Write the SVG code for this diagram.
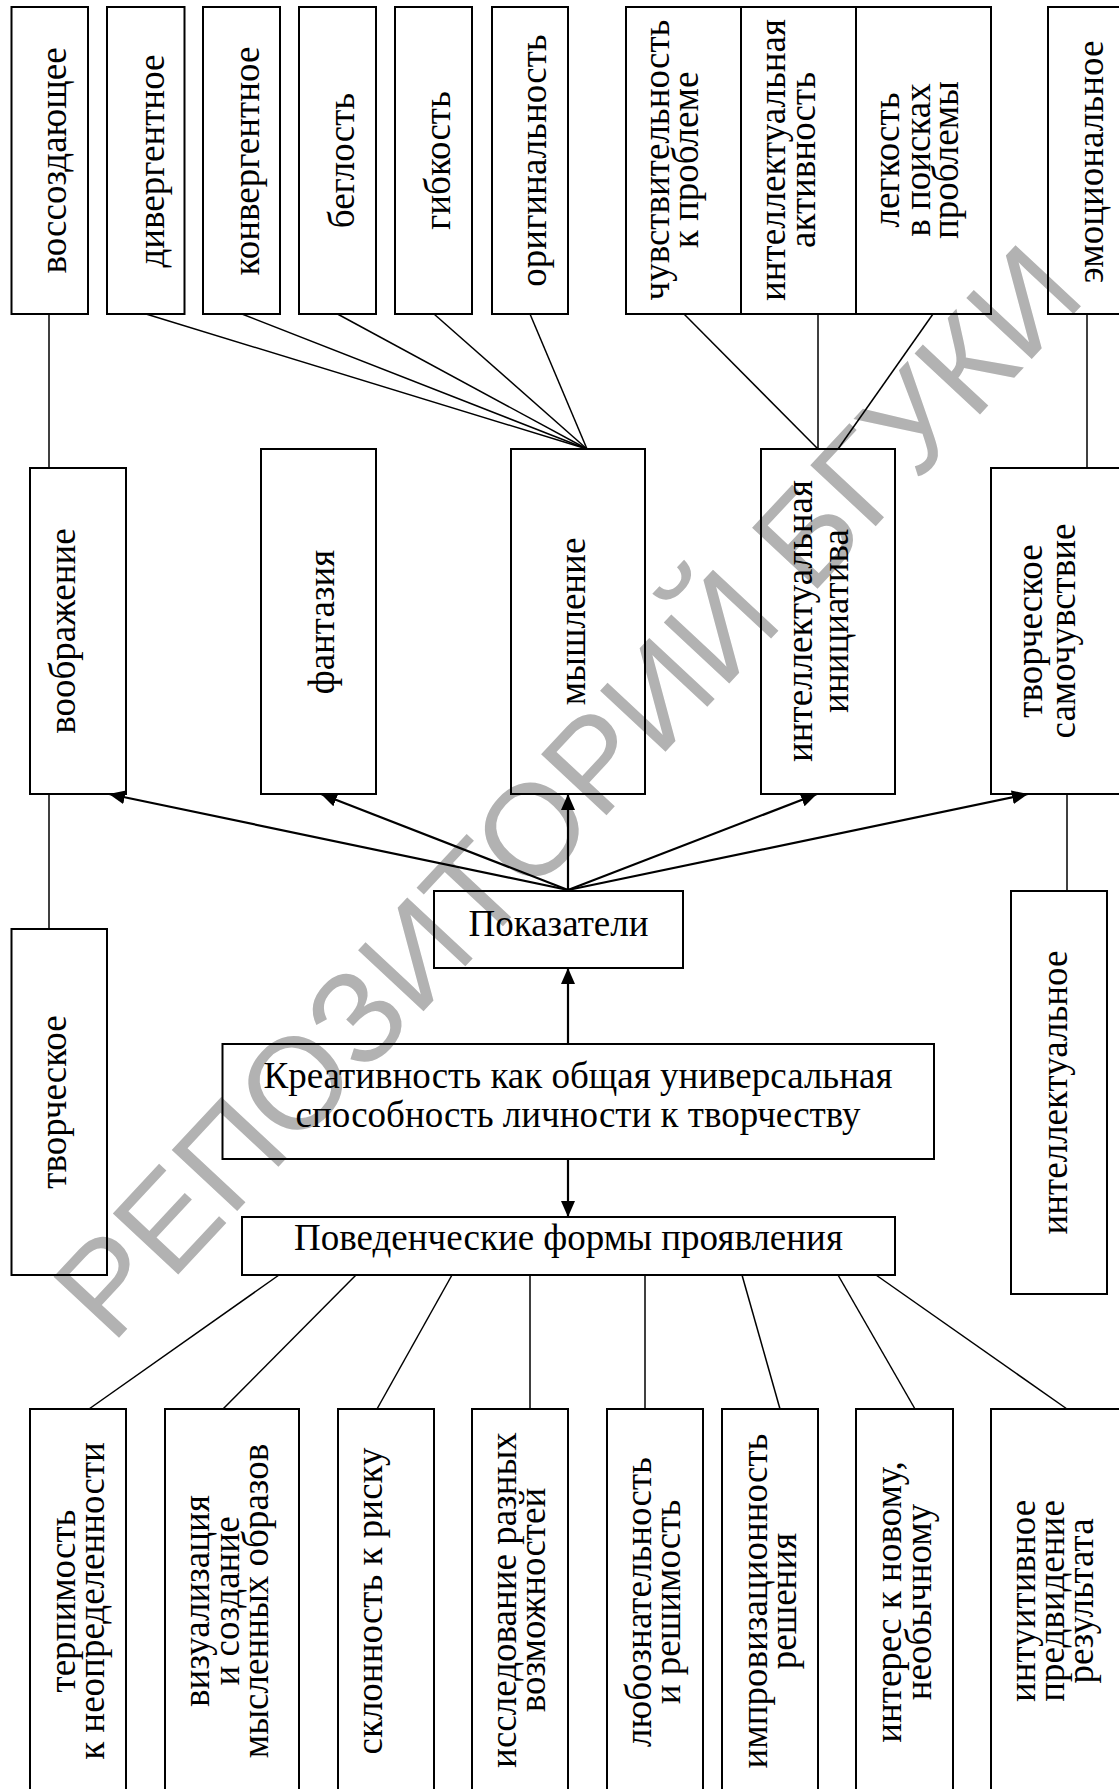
<svg xmlns="http://www.w3.org/2000/svg" width="1119" height="1789" viewBox="0 0 1119 1789">
<style>
.bx{fill:none;stroke:#000;stroke-width:2}
.t{font-family:"Liberation Serif","Times New Roman",serif;font-size:37px;fill:#000;text-anchor:middle}
.cn{stroke:#000;stroke-width:1.5;fill:none}
.ar{stroke:#000;stroke-width:2.2;fill:none;marker-end:url(#ah)}
.wm{font-family:"Liberation Sans",Arial,sans-serif;font-size:130px;fill:#b2b2b2;text-anchor:middle}
</style>
<defs>
<marker id="ah" viewBox="0 0 16 14" markerWidth="16" markerHeight="14" refX="16" refY="7" orient="auto" markerUnits="userSpaceOnUse">
<path d="M0,0 L16,7 L0,14 z" fill="#000"/>
</marker>
</defs>
<rect width="1119" height="1789" fill="#fff"/>
<g id="watermark">
<text class="wm" transform="translate(600 822) rotate(-47)">РЕПОЗИТОРИЙ БГУКИ</text>
</g>
<g id="connectors">
<line class="cn" x1="49" y1="314" x2="49" y2="468"/>
<line class="cn" x1="49" y1="794" x2="49" y2="929"/>
<line class="cn" x1="146" y1="314" x2="587" y2="449"/>
<line class="cn" x1="242" y1="314" x2="587" y2="449"/>
<line class="cn" x1="337.5" y1="314" x2="587" y2="449"/>
<line class="cn" x1="434" y1="314" x2="587" y2="449"/>
<line class="cn" x1="530" y1="314" x2="587" y2="449"/>
<line class="cn" x1="684" y1="314" x2="818" y2="449"/>
<line class="cn" x1="818" y1="314" x2="818" y2="449"/>
<line class="cn" x1="933" y1="314" x2="838" y2="449"/>
<line class="cn" x1="1087" y1="314" x2="1087" y2="468"/>
<line class="cn" x1="1067" y1="794" x2="1067" y2="891"/>
<line class="ar" x1="568" y1="890" x2="109" y2="794"/>
<line class="ar" x1="568" y1="890" x2="321" y2="794"/>
<line class="ar" x1="568" y1="890" x2="568" y2="794"/>
<line class="ar" x1="568" y1="890" x2="817" y2="794"/>
<line class="ar" x1="568" y1="890" x2="1028" y2="794"/>
<line class="ar" x1="568" y1="1044" x2="568" y2="968"/>
<line class="ar" x1="568" y1="1159" x2="568" y2="1217"/>
<line class="cn" x1="279" y1="1275" x2="89" y2="1409"/>
<line class="cn" x1="356" y1="1275" x2="223" y2="1409"/>
<line class="cn" x1="452" y1="1275" x2="377" y2="1409"/>
<line class="cn" x1="530" y1="1275" x2="530" y2="1409"/>
<line class="cn" x1="645" y1="1275" x2="645" y2="1409"/>
<line class="cn" x1="742" y1="1275" x2="780" y2="1409"/>
<line class="cn" x1="838" y1="1275" x2="915" y2="1409"/>
<line class="cn" x1="876" y1="1275" x2="1067" y2="1409"/>
</g>
<g id="n-vossozdayushchee"><rect class="bx" x="11.5" y="7" width="76.5" height="307"/><text class="t" transform="translate(66 160.5) rotate(-90)">воссоздающее</text></g>
<g id="n-divergentnoe"><rect class="bx" x="107" y="7" width="77.5" height="307"/><text class="t" transform="translate(163.5 161) rotate(-90)">дивергентное</text></g>
<g id="n-konvergentnoe"><rect class="bx" x="203" y="7" width="77" height="307"/><text class="t" transform="translate(259 161) rotate(-90)">конвергентное</text></g>
<g id="n-beglost"><rect class="bx" x="299" y="7" width="77" height="307"/><text class="t" transform="translate(353.5 160.5) rotate(-90)">беглость</text></g>
<g id="n-gibkost"><rect class="bx" x="395" y="7" width="77" height="307"/><text class="t" transform="translate(450 160.5) rotate(-90)">гибкость</text></g>
<g id="n-originalnost"><rect class="bx" x="492" y="7" width="76" height="307"/><text class="t" transform="translate(546 160.5) rotate(-90)">оригинальность</text></g>
<g id="n-chuvstvitelnost"><rect class="bx" x="626" y="7" width="115" height="307"/><text class="t" transform="translate(669 160) rotate(-90)"><tspan x="0" y="0">чувствительность</tspan><tspan x="0" y="28.5">к проблеме</tspan></text></g>
<g id="n-intellekt-aktivnost"><rect class="bx" x="741" y="7" width="115" height="307"/><text class="t" transform="translate(785 160) rotate(-90)"><tspan x="0" y="0">интеллектуальная</tspan><tspan x="0" y="30">активность</tspan></text></g>
<g id="n-legkost"><rect class="bx" x="856" y="7" width="135" height="307"/><text class="t" transform="translate(899 160) rotate(-90)"><tspan x="0" y="0">легкость</tspan><tspan x="0" y="30.5">в поисках</tspan><tspan x="0" y="59">проблемы</tspan></text></g>
<g id="n-emotsionalnoe"><rect class="bx" x="1048" y="7" width="90" height="307"/><text class="t" transform="translate(1103 162) rotate(-90)">эмоциональное</text></g>
<g id="n-voobrazhenie"><rect class="bx" x="30" y="468" width="96" height="326"/><text class="t" transform="translate(75 631) rotate(-90)">воображение</text></g>
<g id="n-fantaziya"><rect class="bx" x="261" y="449" width="115" height="345"/><text class="t" transform="translate(334 622) rotate(-90)">фантазия</text></g>
<g id="n-myshlenie"><rect class="bx" x="511" y="449" width="134" height="345"/><text class="t" transform="translate(585 621.5) rotate(-90)">мышление</text></g>
<g id="n-intellekt-initsiativa"><rect class="bx" x="761" y="449" width="134" height="345"/><text class="t" transform="translate(812 621) rotate(-90)"><tspan x="0" y="0">интеллектуальная</tspan><tspan x="0" y="35.5">инициатива</tspan></text></g>
<g id="n-tvorcheskoe-samochuvstvie"><rect class="bx" x="991" y="468" width="150" height="326"/><text class="t" transform="translate(1042 631) rotate(-90)"><tspan x="0" y="0">творческое</tspan><tspan x="0" y="33">самочувствие</tspan></text></g>
<g id="n-tvorcheskoe"><rect class="bx" x="11.5" y="929" width="95.5" height="346"/><text class="t" transform="translate(66 1102) rotate(-90)">творческое</text></g>
<g id="n-intellektualnoe"><rect class="bx" x="1011" y="891" width="96" height="403"/><text class="t" transform="translate(1067 1092.5) rotate(-90)">интеллектуальное</text></g>
<g id="n-pokazateli"><rect class="bx" x="434" y="891" width="249" height="77"/><text class="t" x="558.5" y="936">Показатели</text></g>
<g id="n-kreativnost"><rect class="bx" x="222.5" y="1044" width="711.5" height="115"/><text class="t"><tspan x="578" y="1088">Креативность как общая универсальная</tspan><tspan x="578" y="1127">способность личности к творчеству</tspan></text></g>
<g id="n-povedencheskie"><rect class="bx" x="242" y="1217" width="653" height="58"/><text class="t" x="568.5" y="1250">Поведенческие формы проявления</text></g>
<g id="n-terpimost"><rect class="bx" x="30" y="1409" width="96" height="400"/><text class="t" transform="translate(75 1601) rotate(-90)"><tspan x="0" y="0">терпимость</tspan><tspan x="0" y="28.6">к неопределенности</tspan></text></g>
<g id="n-vizualizatsiya"><rect class="bx" x="165" y="1409" width="134" height="400"/><text class="t" transform="translate(209 1601) rotate(-90)"><tspan x="0" y="0">визуализация</tspan><tspan x="0" y="30">и создание</tspan><tspan x="0" y="59">мысленных образов</tspan></text></g>
<g id="n-sklonnost"><rect class="bx" x="338" y="1409" width="96" height="400"/><text class="t" transform="translate(382 1601) rotate(-90)">склонность к риску</text></g>
<g id="n-issledovanie"><rect class="bx" x="472" y="1409" width="96" height="400"/><text class="t" transform="translate(516 1600) rotate(-90)"><tspan x="0" y="0">исследование разных</tspan><tspan x="0" y="29">возможностей</tspan></text></g>
<g id="n-lyuboznatelnost"><rect class="bx" x="607" y="1409" width="96" height="400"/><text class="t" transform="translate(651 1602) rotate(-90)"><tspan x="0" y="0">любознательность</tspan><tspan x="0" y="29">и решимость</tspan></text></g>
<g id="n-improvizatsionnost"><rect class="bx" x="722" y="1409" width="96" height="400"/><text class="t" transform="translate(767 1601) rotate(-90)"><tspan x="0" y="0">импровизационность</tspan><tspan x="0" y="29">решения</tspan></text></g>
<g id="n-interes"><rect class="bx" x="856" y="1409" width="97" height="400"/><text class="t" transform="translate(901 1602) rotate(-90)"><tspan x="0" y="0">интерес к новому,</tspan><tspan x="0" y="30">необычному</tspan></text></g>
<g id="n-intuitivnoe"><rect class="bx" x="991" y="1409" width="150" height="400"/><text class="t" transform="translate(1035 1601) rotate(-90)"><tspan x="0" y="0">интуитивное</tspan><tspan x="0" y="28.5">предвидение</tspan><tspan x="0" y="58">результата</tspan></text></g>
</svg>
